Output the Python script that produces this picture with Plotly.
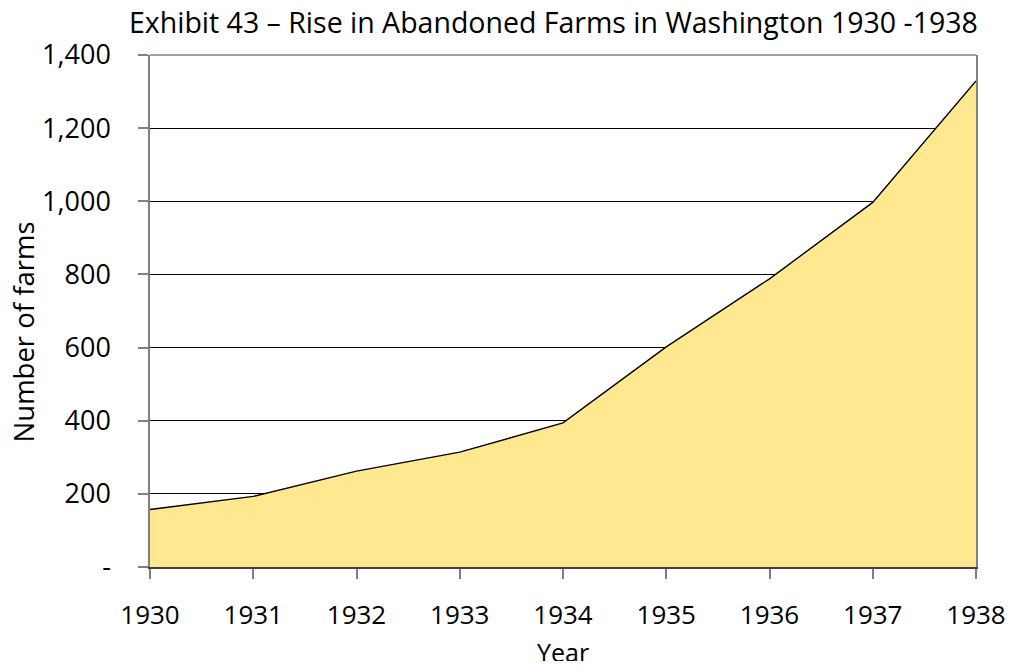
import plotly.graph_objects as go

years = [1930, 1931, 1932, 1933, 1934, 1935, 1936, 1937, 1938]
farms = [157, 193, 262, 314, 394, 602, 788, 997, 1329]
y_tickvals = [0, 200, 400, 600, 800, 1000, 1200, 1400]
y_ticktext = ["-", "200", "400", "600", "800", "1,000", "1,200", "1,400"]
title_text = "Exhibit 43 \u2013 Rise in Abandoned Farms in Washington 1930 -1938"

FONT = "Open Sans"

fig = go.Figure()
fig.add_trace(go.Scatter(
    x=years, y=farms, mode="lines", fill="tozeroy",
    line=dict(color="black", width=1.4),
    fillcolor="#FFCC00",
    fillpattern=dict(shape=".", fgcolor="#FFCC00", bgcolor="white", size=2, solidity=0.5, fillmode="replace"),
    showlegend=False,
))

# the page body has an 8px margin; keep the figure inside the 1026x669 window
fig.update_layout(
    width=1010, height=653,
    margin=dict(l=142, r=32, t=47, b=94),
    paper_bgcolor="white", plot_bgcolor="white",
    font=dict(family=FONT, color="black", size=27),
    annotations=[
        dict(text=title_text, xref="paper", yref="paper", x=0.488, y=1.0645,
             xanchor="center", yanchor="middle", showarrow=False, font=dict(size=28.5)),
        dict(text="Number of farms", xref="paper", yref="paper", x=-0.152, y=0.459,
             xanchor="center", yanchor="middle", textangle=-90, showarrow=False, font=dict(size=27.5)),
        dict(text="Year", xref="paper", yref="paper", x=0.5, y=-0.166,
             xanchor="center", yanchor="middle", showarrow=False, font=dict(size=25)),
    ],
)
fig.update_xaxes(
    range=[1930, 1938], tickvals=years, ticktext=[str(y) for y in years],
    showgrid=False, zeroline=False,
    showline=True, linecolor="#404040", linewidth=1.5, mirror=False,
    ticks="outside", ticklen=10, tickcolor="#808080", tickwidth=1.5,
    ticklabelstandoff=14, tickfont=dict(size=26),
)
fig.update_yaxes(
    range=[0, 1400], tickvals=y_tickvals, ticktext=y_ticktext,
    showgrid=True, gridcolor="black", gridwidth=1, zeroline=False,
    showline=True, linecolor="#808080", linewidth=1.5, mirror=True,
    ticks="outside", ticklen=10, tickcolor="#808080", tickwidth=1.5,
    ticklabelstandoff=22,
)
fig.add_shape(type="line", xref="paper", yref="paper", x0=0, x1=1, y0=1, y1=1,
              line=dict(color="#808080", width=1.5))

fig.write_html("out.html")
